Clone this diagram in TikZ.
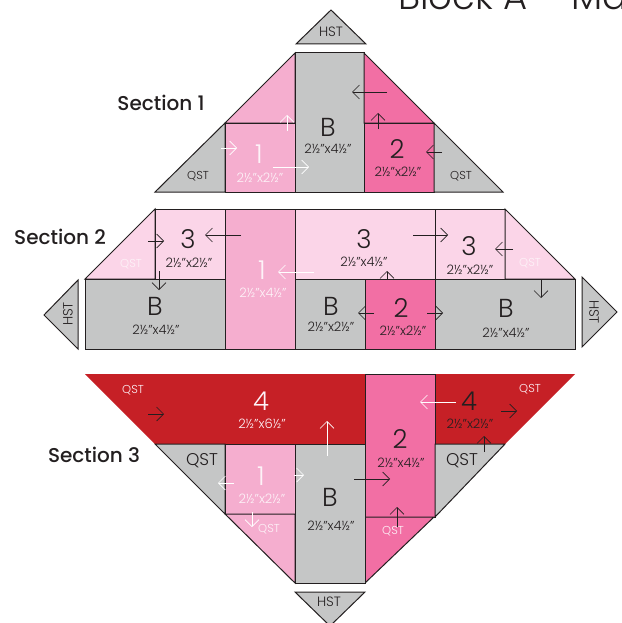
\documentclass[tikz,border=0pt]{standalone}
\usepackage{fontspec}
\setmainfont{Poppins}[UprightFont=*-Light,BoldFont=*-Medium]
\usetikzlibrary{arrows.meta}
\definecolor{gry}{HTML}{C5C6C6}
\definecolor{pkA}{HTML}{F5AECF}
\definecolor{pkB}{HTML}{F26FA4}
\definecolor{pkC}{HTML}{FBD5E8}
\definecolor{rd}{HTML}{C62026}
\definecolor{ink}{HTML}{231F20}
\tikzset{x=1pt,y=-1pt,
 patch/.style={draw=ink,line width=1pt,line join=miter},
 big/.style={inner sep=0,font=\fontsize{26}{26}\selectfont,text=ink},
 siz/.style={inner sep=0,font=\fontsize{13}{13}\selectfont,text=ink},
 qs/.style={inner sep=0,font=\fontsize{11.5}{12}\selectfont,text=ink},
 hs/.style={inner sep=0,font=\fontsize{13.5}{14}\selectfont,text=ink},
 wh/.style={text=white!85!pkA},
 sec/.style={inner sep=0,font=\fontsize{20}{20}\bfseries\selectfont,text=ink},
 arr/.style={draw=ink,line width=.6pt,-{Straight Barb[length=7pt,width=14pt,line width=.6pt]}},
 warr/.style={arr,draw=white},
}
\begin{document}
\begin{tikzpicture}
\useasboundingbox (0,0) rectangle (621,623);
% Section 1
\fill[patch,fill=gry] (331,10) -- (366,44) -- (296,44) -- cycle;
\fill[patch,fill=gry] (155,192) -- (225,123) -- (225,192) -- cycle;
\fill[patch,fill=pkA] (225,123) -- (295,53) -- (295,123) -- cycle;
\fill[patch,fill=pkA] (225,123) rectangle (295,192);
\fill[patch,fill=gry] (295,53) rectangle (364,192);
\fill[patch,fill=pkB] (364,53) -- (434,123) -- (364,123) -- cycle;
\fill[patch,fill=pkB] (364,123) rectangle (434,192);
\fill[patch,fill=gry] (434,123) -- (503,192) -- (434,192) -- cycle;
% Section 2
\fill[patch,fill=pkC] (85,279) -- (155,209) -- (155,279) -- cycle;
\fill[patch,fill=pkC] (155,209) rectangle (225,279);
\fill[patch,fill=gry] (85,279) rectangle (225,349);
\fill[patch,fill=pkA] (225,209) rectangle (295,349);
\fill[patch,fill=pkC] (295,209) rectangle (435,279);
\fill[patch,fill=gry] (295,279) rectangle (365,349);
\fill[patch,fill=pkB] (365,279) rectangle (435,349);
\fill[patch,fill=pkC] (435,209) rectangle (505,279);
\fill[patch,fill=pkC] (505,209) -- (575,279) -- (505,279) -- cycle;
\fill[patch,fill=gry] (435,279) rectangle (575,349);
\fill[patch,fill=gry] (78,280) -- (44,315) -- (78,349) -- cycle;
\fill[patch,fill=gry] (582,277) -- (617,312) -- (582,347) -- cycle;
% Section 3
\fill[fill=rd] (85,374) -- (365,374) -- (365,444) -- (155,444) -- cycle;
\fill[fill=rd] (435,374) -- (575,374) -- (505,444) -- (435,444) -- cycle;
\fill[patch,fill=pkB] (365,374) rectangle (435,517);
\fill[patch,fill=pkB] (365,517) -- (434,517) -- (365,583) -- cycle;
\fill[patch,fill=gry] (155,444) -- (225,444) -- (225,514) -- cycle;
\fill[patch,fill=pkA] (225,444) rectangle (295,514);
\fill[patch,fill=pkA] (225,514) -- (295,514) -- (295,583) -- cycle;
\fill[patch,fill=gry] (295,444) rectangle (365,583);
\fill[patch,fill=gry] (435,444) -- (505,444) -- (435,517) -- cycle;
\fill[patch,fill=gry] (295,592) -- (365,592) -- (330,626) -- cycle;
% title
\node[inner sep=0,anchor=base west,font=\fontsize{37}{38}\selectfont,text=ink] (title) at (398,10) {Block A -- Ma};
% section labels
\node[sec] (s1) at (161,103) {Section 1};
\node[sec] (s2) at (60,237) {Section 2};
\node[sec] (s3) at (94,455) {Section 3};
% section 1 text
\node[hs] (h1) at (331,32) {HST};
\node[qs] (q1) at (198,176) {QST};
\node[qs] (q2) at (461,176) {QST};
\node[big,wh] (n1) at (259,154) {1};
\node[siz,wh] (d1) at (260,178) {2½"x2½"};
\node[big] (nb1) at (328,127) {B};
\node[siz] (db1) at (328,149) {2½"x4½"};
\node[big] (n2) at (397,149) {2};
\node[siz] (d2) at (398,172) {2½"x2½"};
% section 2 text
\node[big] (n3a) at (188,239) {3};
\node[siz] (d3a) at (189,263) {2½"x2½"};
\node[qs,wh] (q3) at (131,264) {QST};
\node[big] (nb2) at (155,306) {B};
\node[siz] (db2) at (156,330) {2½"x4½"};
\node[big,wh] (n4) at (262,270) {1};
\node[siz,wh] (d4) at (263,293) {2½"x4½"};
\node[big] (n5) at (364,239) {3};
\node[siz] (d5) at (364,262) {2½"x4½"};
\node[big] (nb3) at (331,306) {B};
\node[siz] (db3) at (331,327) {2½"x2½"};
\node[big] (n6) at (401,308) {2};
\node[siz] (d6) at (403,331) {2½"x2½"};
\node[big] (n7) at (469,246) {3};
\node[siz] (d7) at (470,270) {2½"x2½"};
\node[qs,wh] (q4) at (530,263) {QST};
\node[big] (nb4) at (506,308) {B};
\node[siz] (db4) at (506,333) {2½"x4½"};
\node[hs,rotate=90] (h2) at (68,314) {HST};
\node[hs,rotate=-90] (h3) at (594,312) {HST};
% section 3 text
\node[qs,wh] (q5) at (133,390) {QST};
\node[big,wh] (n8) at (261,401) {4};
\node[siz,wh] (d8) at (262,424) {2½"x6½"};
\node[big] (n9) at (400,439) {2};
\node[siz] (d9) at (401,463) {2½"x4½"};
\node[big] (n10) at (469,401) {4};
\node[siz] (d10) at (470,424) {2½"x2½"};
\node[qs,wh] (q6) at (530,389) {QST};
\node[inner sep=0,font=\fontsize{17}{17}\selectfont,text=ink] (q7) at (202,461) {QST};
\node[inner sep=0,font=\fontsize{17}{17}\selectfont,text=ink] (q8) at (462,461) {QST};
\node[big,wh] (n11) at (261,476) {1};
\node[siz,wh] (d11) at (262,499) {2½"x2½"};
\node[qs,wh] (q9) at (269,529) {QST};
\node[big] (nb5) at (330,497) {B};
\node[siz] (db5) at (331,526) {2½"x4½"};
\node[qs,wh] (q10) at (393,531) {QST};
\node[hs] (h4) at (329,602) {HST};
% arrows section 1
\coordinate (a1) at (387,92); \coordinate (a1e) at (352,92);
\draw[arr] (a1) -- (a1e);
\coordinate (a2) at (378,129); \coordinate (a2e) at (378,113);
\draw[arr] (a2) -- (a2e);
\coordinate (a3) at (442,152); \coordinate (a3e) at (426,152);
\draw[arr] (a3) -- (a3e);
\coordinate (a4) at (287,131); \coordinate (a4e) at (287,115);
\draw[warr] (a4) -- (a4e);
\coordinate (a5) at (221,148); \coordinate (a5e) at (237,148);
\draw[warr] (a5) -- (a5e);
\coordinate (a6) at (273,167); \coordinate (a6e) at (309,167);
\draw[warr] (a6) -- (a6e);
% arrows section 2
\coordinate (b1) at (148,241); \coordinate (b1e) at (164,241);
\draw[arr] (b1) -- (b1e);
\coordinate (b2) at (241,235); \coordinate (b2e) at (205,235);
\draw[arr] (b2) -- (b2e);
\coordinate (b3) at (159,271); \coordinate (b3e) at (159,290);
\draw[arr] (b3) -- (b3e);
\coordinate (b4) at (314,272); \coordinate (b4e) at (278,272);
\draw[warr] (b4) -- (b4e);
\coordinate (b5) at (413,235); \coordinate (b5e) at (448,235);
\draw[arr] (b5) -- (b5e);
\coordinate (b6) at (513,249); \coordinate (b6e) at (495,249);
\draw[arr] (b6) -- (b6e);
\coordinate (b7) at (541,279); \coordinate (b7e) at (541,298);
\draw[arr] (b7) -- (b7e);
\coordinate (b8) at (387,279); \coordinate (b8e) at (387,271);
\draw[arr] (b8) -- (b8e);
\coordinate (b9) at (374,313); \coordinate (b9e) at (358,313);
\draw[arr] (b9) -- (b9e);
\coordinate (b10) at (427,313); \coordinate (b10e) at (443,313);
\draw[arr] (b10) -- (b10e);
% arrows section 3
\coordinate (c1) at (148,414); \coordinate (c1e) at (164,414);
\draw[arr] (c1) -- (c1e);
\coordinate (c2) at (327,456); \coordinate (c2e) at (327,421);
\draw[warr] (c2) -- (c2e);
\coordinate (c3) at (456,402); \coordinate (c3e) at (420,402);
\draw[warr] (c3) -- (c3e);
\coordinate (c4) at (501,411); \coordinate (c4e) at (517,411);
\draw[arr] (c4) -- (c4e);
\coordinate (c5) at (484,452); \coordinate (c5e) at (484,436);
\draw[arr] (c5) -- (c5e);
\coordinate (c6) at (354,479); \coordinate (c6e) at (390,479);
\draw[arr] (c6) -- (c6e);
\coordinate (c7) at (397,527); \coordinate (c7e) at (397,507);
\draw[arr] (c7) -- (c7e);
\coordinate (c8) at (234,483); \coordinate (c8e) at (218,483);
\draw[warr] (c8) -- (c8e);
\coordinate (c9) at (294,475); \coordinate (c9e) at (304,475);
\draw[warr] (c9) -- (c9e);
\coordinate (c10) at (252,512); \coordinate (c10e) at (252,527);
\draw[warr] (c10) -- (c10e);
\end{tikzpicture}
\end{document}
